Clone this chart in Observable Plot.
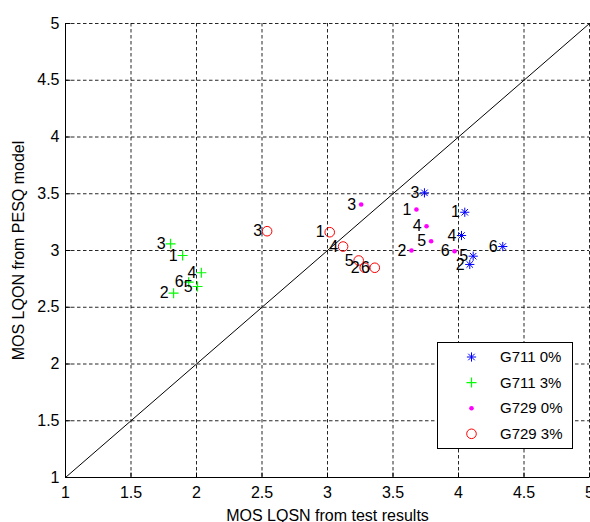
<!DOCTYPE html>
<html><head><meta charset="utf-8">
<script src="https://cdn.jsdelivr.net/npm/d3@7"></script>
<script src="https://cdn.jsdelivr.net/npm/@observablehq/plot@0.6"></script>
<style>
html,body{margin:0;padding:0;background:#fff;}
#chart{position:relative;width:590px;height:522px;overflow:hidden;}
#legend{position:absolute;left:437px;top:342px;width:136px;height:107px;box-sizing:border-box;border:1px solid #000;background:#fff;}
#legend svg{display:block;}
</style></head><body><div id="chart"></div>
<script>
// ---- data ----
const pointLabels = ["1", "2", "3", "4", "5", "6"];
const seriesNames = ["G711 0%", "G711 3%", "G729 0%", "G729 3%"];
const g711_0_x = [4.048, 4.086, 3.740, 4.023, 4.112, 4.338];
const g711_0_y = [3.337, 2.877, 3.508, 3.132, 2.950, 3.035];
const g711_3_x = [1.894, 1.825, 1.802, 2.037, 2.008, 1.940];
const g711_3_y = [2.956, 2.624, 3.059, 2.804, 2.683, 2.721];
const g729_0_x = [3.679, 3.641, 3.257, 3.756, 3.791, 3.970];
const g729_0_y = [3.361, 3.000, 3.405, 3.214, 3.082, 2.994];
const g729_3_x = [3.017, 3.284, 2.539, 3.119, 3.238, 3.361];
const g729_3_y = [3.161, 2.848, 3.170, 3.035, 2.912, 2.848];
const axisDomain = [1, 5];
const tickValues = [1, 1.5, 2, 2.5, 3, 3.5, 4, 4.5, 5];
const xLabel = "MOS LQSN from test results";
const yLabel = "MOS LQON from PESQ model";

// ---- symbols ----
const rOf = (size) => Math.sqrt(size / Math.PI);
const starSym = {draw(c, size) { const r = rOf(size), d = r * Math.SQRT1_2;
  c.moveTo(-r, 0); c.lineTo(r, 0); c.moveTo(0, -r); c.lineTo(0, r);
  c.moveTo(-d, -d); c.lineTo(d, d); c.moveTo(-d, d); c.lineTo(d, -d); }};
const plusSym = {draw(c, size) { const r = rOf(size);
  c.moveTo(-r, 0); c.lineTo(r, 0); c.moveTo(0, -r); c.lineTo(0, r); }};
const circleSym = {draw(c, size) { const r = rOf(size); c.moveTo(r, 0); c.arc(0, 0, r, 0, 2 * Math.PI); }};
const tickUpSym = {draw(c, size) { const r = rOf(size); c.moveTo(0, 0); c.lineTo(0, -r); }};
const tickRightSym = {draw(c, size) { const r = rOf(size); c.moveTo(0, 0); c.lineTo(r, 0); }};

const styles = [
  {sym: starSym, r: 4.6, stroke: "#0000ff", fill: "none", sw: 1},
  {sym: plusSym, r: 5, stroke: "#00ff00", fill: "none", sw: 1.2},
  {sym: circleSym, r: 2.3, stroke: "none", fill: "#ff00ff", sw: 0},
  {sym: circleSym, r: 4.8, stroke: "#ff0000", fill: "none", sw: 1}
];

const allX = [g711_0_x, g711_3_x, g729_0_x, g729_3_x];
const allY = [g711_0_y, g711_3_y, g729_0_y, g729_3_y];
const tables = allX.map((xs, s) => xs.map((x, i) => ({x, y: allY[s][i], label: pointLabels[i], series: seriesNames[s]})));
const labelRows = tables.flat();

const font = 'Arial, "Liberation Sans", Helvetica, sans-serif';
const gridTicks = tickValues.filter(t => t > axisDomain[0]);

const plot = Plot.plot({
  width: 590, height: 522,
  marginLeft: 65, marginRight: 1, marginTop: 23, marginBottom: 45,
  style: {fontFamily: font, fontSize: "16px", background: "#fff", color: "#000"},
  x: {domain: axisDomain},
  y: {domain: axisDomain},
  marks: [
    Plot.gridX(gridTicks, {stroke: "#000", strokeOpacity: 0.85, strokeDasharray: "3.5,2.5"}),
    Plot.gridY(gridTicks, {stroke: "#000", strokeOpacity: 0.85, strokeDasharray: "3.5,2.5"}),
    Plot.ruleX([axisDomain[0]], {stroke: "#000"}),
    Plot.ruleY([axisDomain[0]], {stroke: "#000"}),
    Plot.dot(tickValues, {x: d => d, y: axisDomain[0], symbol: tickUpSym, r: 5, stroke: "#000", strokeWidth: 1}),
    Plot.dot(tickValues, {x: axisDomain[0], y: d => d, symbol: tickRightSym, r: 5, stroke: "#000", strokeWidth: 1}),
    Plot.line(axisDomain, {x: d => d, y: d => d, stroke: "#000", strokeWidth: 1}),
    Plot.axisX({ticks: tickValues, tickSize: 0, tickPadding: 9, fontSize: 16, tickFormat: d => String(d),
      label: xLabel, labelAnchor: "center", labelOffset: 43, labelArrow: "none"}),
    Plot.axisY({ticks: tickValues, tickSize: 0, tickPadding: 6, fontSize: 16, tickFormat: d => String(d),
      label: yLabel, labelAnchor: "center", labelOffset: 53, labelArrow: "none"}),
    ...tables.map((rows, s) => Plot.dot(rows, {x: "x", y: "y", symbol: styles[s].sym, r: styles[s].r,
      stroke: styles[s].stroke, fill: styles[s].fill, strokeWidth: styles[s].sw})),
    Plot.text(labelRows, {x: "x", y: "y", text: "label", textAnchor: "end", dx: -5, fontSize: 16, fill: "#000"})
  ]
});
const chart = document.getElementById("chart");
chart.appendChild(plot);

// ---- legend ----
const leg = d3.select(chart).append("div").attr("id", "legend");
const lsvg = leg.append("svg").attr("width", 134).attr("height", 105)
  .style("font-family", font).style("font-size", "15px");
seriesNames.forEach((name, s) => {
  const st = styles[s];
  const g = lsvg.append("g").attr("transform", `translate(33.5,${14 + s * 25.6})`);
  g.append("path").attr("d", d3.symbol(st.sym, st.r * st.r * Math.PI)())
    .attr("stroke", st.stroke).attr("fill", st.fill).attr("stroke-width", st.sw);
  lsvg.append("text").attr("x", 62).attr("y", 14 + s * 25.6).attr("dy", "0.35em").text(name);
});
</script></body></html>
